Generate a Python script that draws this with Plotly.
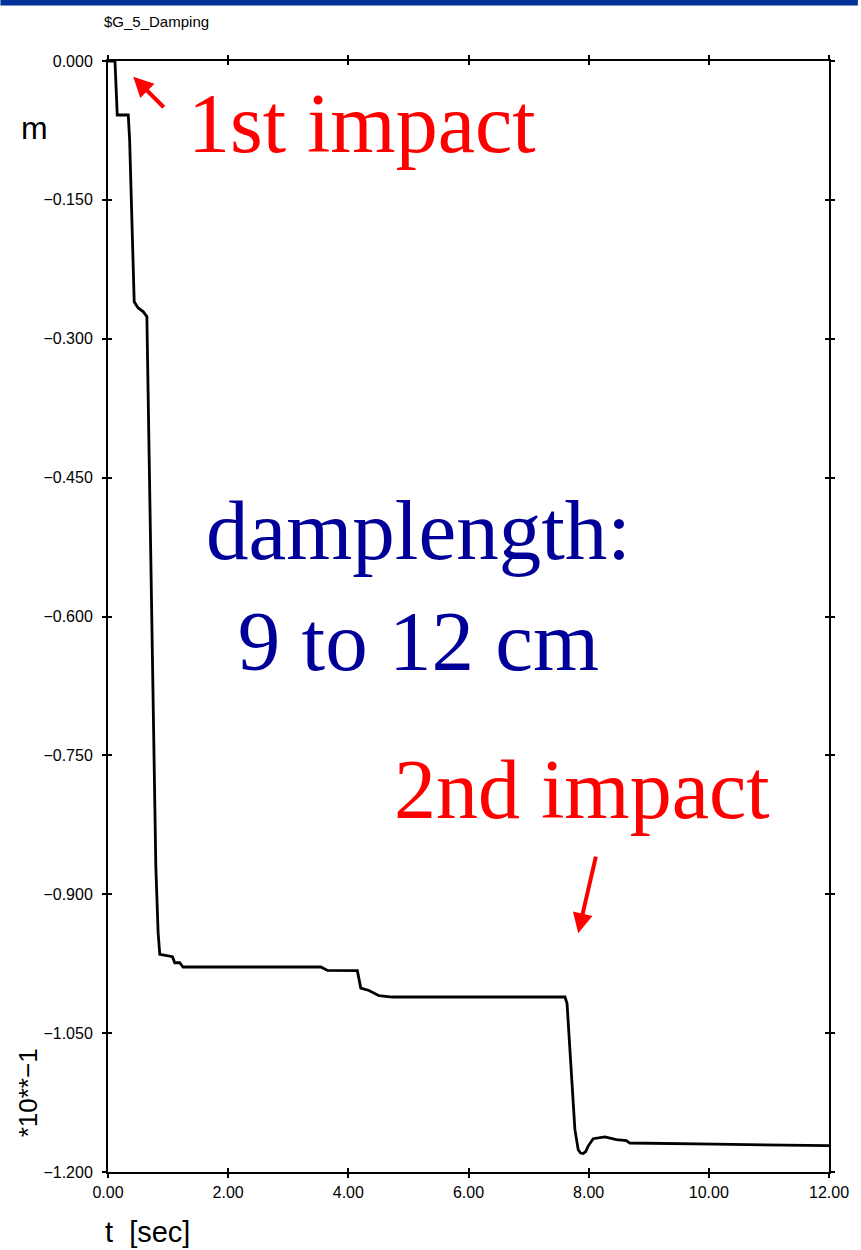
import plotly.graph_objects as go

# ---- data ----
t_sec = [0.0, 0.116, 0.154, 0.337, 0.36, 0.436, 0.502, 0.585, 0.647, 0.725, 0.763,
         0.796, 0.834, 0.862, 1.073, 1.111, 1.194, 1.249, 3.543, 3.653, 4.150, 4.207,
         4.344, 4.510, 4.730, 7.606, 7.640, 7.680, 7.715, 7.771, 7.826, 7.866, 7.909,
         7.950, 7.992, 8.075, 8.269, 8.461, 8.627, 8.683, 10.093, 12.0]
disp = [0.0, 0.0, -0.0583, -0.0583, -0.085, -0.260, -0.2667, -0.2707, -0.276, -0.582, -0.7256,
        -0.870, -0.9416, -0.965, -0.9675, -0.974, -0.974, -0.9786, -0.9786, -0.9823, -0.9826, -1.0013,
        -1.0039, -1.0096, -1.011, -1.011, -1.018, -1.060, -1.1003, -1.1543, -1.176, -1.1795, -1.180,
        -1.178, -1.172, -1.164, -1.162, -1.165, -1.166, -1.1687, -1.170, -1.1716]

x_ticks = [0, 2, 4, 6, 8, 10, 12]
y_ticks = [0.0, -0.15, -0.30, -0.45, -0.60, -0.75, -0.90, -1.05, -1.20]

title_txt = "$G_5_Damping"
y_unit = "m"
y_scale = "*10**\u22121"
x_label = "t  [sec]"
note1 = "1st impact"
note2 = "2nd impact"
note3 = "damplength:<br>9 to 12 cm"

W, H = 861, 1250
ML, MR, MT, MB = 108, 29, 61, 78
PW, PH = W - ML - MR, H - MT - MB

fig = go.Figure()
fig.add_trace(go.Scatter(x=t_sec, y=disp, mode="lines",
                         line=dict(color="black", width=2.8),
                         showlegend=False, hoverinfo="skip"))
# invisible trace to activate overlay axes (for crossing ticks)
fig.add_trace(go.Scatter(x=t_sec, y=disp, xaxis="x2", yaxis="y2", mode="lines",
                         line=dict(color="rgba(0,0,0,0)", width=0),
                         showlegend=False, hoverinfo="skip"))

tickfont = dict(family="Liberation Sans, Arial, sans-serif", size=16, color="black")
common_x = dict(range=[0, 12], tickvals=x_ticks, showgrid=False, zeroline=False,
                showline=True, linecolor="black", linewidth=2,
                ticklen=4, tickwidth=1.5, tickcolor="black", mirror="ticks")
common_y = dict(range=[-1.2, 0], tickvals=y_ticks, showgrid=False, zeroline=False,
                showline=True, linecolor="black", linewidth=2,
                ticklen=4, tickwidth=1.5, tickcolor="black", mirror="ticks")

fig.update_layout(
    width=W, height=H,
    margin=dict(l=ML, r=MR, t=MT, b=MB),
    paper_bgcolor="white", plot_bgcolor="white",
    xaxis=dict(**common_x, ticks="outside", tickformat=".2f", tickfont=tickfont,
               ticklabelstandoff=1),
    yaxis=dict(**common_y, ticks="outside", tickformat=".3f", tickfont=tickfont,
               ticklabelstandoff=6),
    xaxis2=dict(**common_x, ticks="inside", overlaying="x", showticklabels=False),
    yaxis2=dict(**common_y, ticks="inside", overlaying="y", showticklabels=False),
)

# top blue bar
fig.add_shape(type="rect", xref="paper", yref="paper",
              x0=-ML / PW, x1=1 + MR / PW,
              y0=1 + (MT - 5.5) / PH, y1=1 + MT / PH + 0.01,
              fillcolor="#003399", line=dict(width=0), layer="above")

sans = "Liberation Sans, Arial, sans-serif"
serif = "Liberation Serif, Times New Roman, serif"

def px_x(px):
    return (px - ML) / PW

def px_y(py):
    return 1 - (py - MT) / PH

fig.add_annotation(text=title_txt, xref="paper", yref="paper", x=px_x(157), y=px_y(21),
                   showarrow=False, xanchor="center", yanchor="middle",
                   font=dict(family=sans, size=15, color="black"))
fig.add_annotation(text=y_unit, xref="paper", yref="paper", x=px_x(34), y=px_y(128),
                   showarrow=False, xanchor="center", yanchor="middle",
                   font=dict(family=sans, size=32, color="black"))
fig.add_annotation(text=y_scale, xref="paper", yref="paper", x=px_x(28), y=px_y(1093),
                   showarrow=False, xanchor="center", yanchor="middle", textangle=-90,
                   font=dict(family=sans, size=26, color="black"))
fig.add_annotation(text=x_label, xref="paper", yref="paper", x=px_x(148), y=px_y(1232),
                   showarrow=False, xanchor="center", yanchor="middle",
                   font=dict(family=sans, size=29, color="black"))

fig.add_annotation(text=note1, x=4.22, y=-0.068, showarrow=False,
                   xanchor="center", yanchor="middle",
                   font=dict(family=serif, size=84, color="#ff0000"))
fig.add_annotation(text=note2, x=7.89, y=-0.787, showarrow=False,
                   xanchor="center", yanchor="middle",
                   font=dict(family=serif, size=84, color="#ff0000"))
fig.add_annotation(text=note3, x=5.17, y=-0.566, showarrow=False,
                   xanchor="center", yanchor="middle",
                   font=dict(family=serif, size=85, color="#000099"))

# arrows
fig.add_annotation(text="", x=0.42, y=-0.017, ax=32, ay=32, showarrow=True,
                   arrowhead=2, arrowsize=1.0, arrowwidth=4, arrowcolor="#ff0000")
fig.add_annotation(text="", x=7.826, y=-0.942, ax=18, ay=-78, showarrow=True,
                   arrowhead=2, arrowsize=1.0, arrowwidth=4, arrowcolor="#ff0000")

fig.write_html("out.html")
